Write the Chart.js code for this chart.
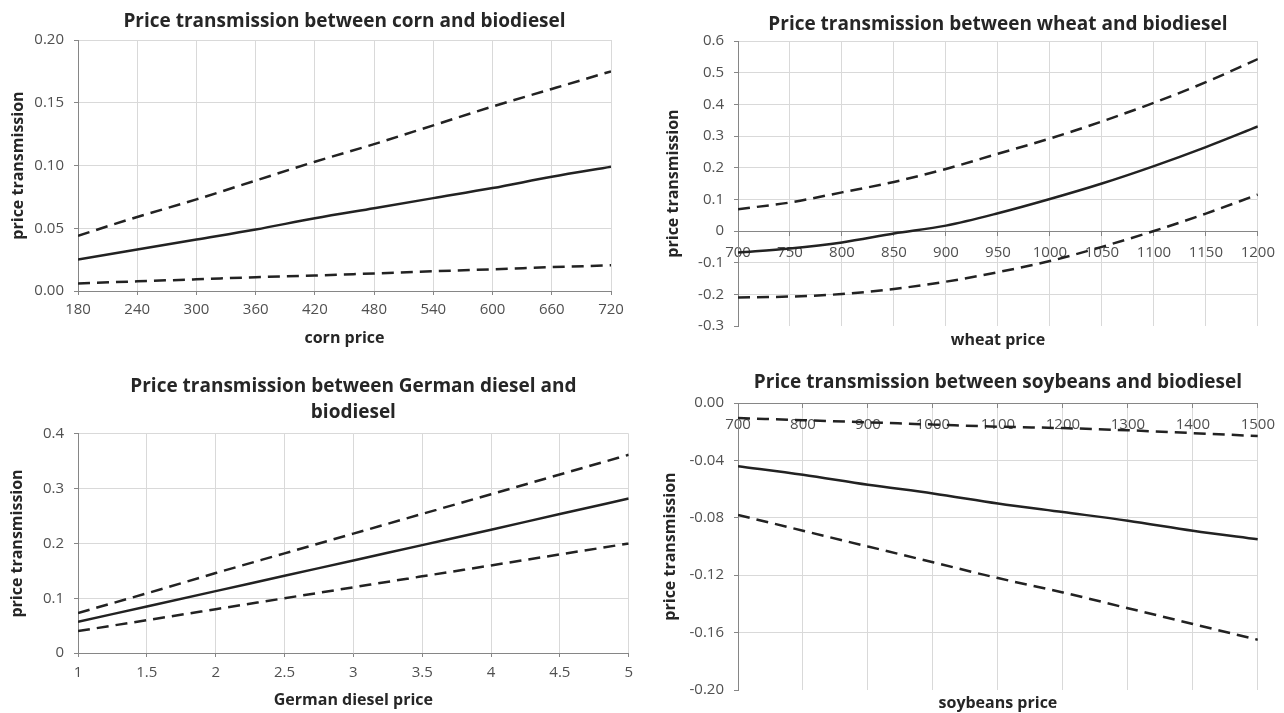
<!DOCTYPE html>
<html><head><meta charset="utf-8">
<script src="https://cdn.jsdelivr.net/npm/chart.js@4/dist/chart.umd.min.js"></script>
<style>
html,body{margin:0;padding:0;background:#fff;}
#wrap{position:relative;width:1284px;height:713px;overflow:hidden;background:#fff;}
canvas{position:absolute;}
</style></head><body>
<div id="wrap">
<canvas id="c1" width="640" height="350" style="left:0;top:0"></canvas>
<canvas id="c2" width="644" height="350" style="left:640px;top:0"></canvas>
<canvas id="c3" width="640" height="363" style="left:0;top:350px"></canvas>
<canvas id="c4" width="644" height="363" style="left:640px;top:350px"></canvas>
</div>
<script>
// ---- data ----
const cornPrice    = [180, 240, 300, 360, 420, 480, 540, 600, 660, 720];
const cornEstimate = [0.025, 0.033, 0.041, 0.049, 0.058, 0.066, 0.074, 0.082, 0.091, 0.099];
const cornUpper    = [0.044, 0.059, 0.073, 0.088, 0.103, 0.117, 0.132, 0.147, 0.161, 0.175];
const cornLower    = [0.006, 0.0077, 0.0093, 0.011, 0.0123, 0.0140, 0.0157, 0.0173, 0.019, 0.0205];

const wheatPrice    = [700, 750, 800, 850, 900, 950, 1000, 1050, 1100, 1150, 1200];
const wheatEstimate = [-0.068, -0.055, -0.036, -0.008, 0.017, 0.056, 0.101, 0.150, 0.205, 0.265, 0.330];
const wheatUpper    = [0.069, 0.090, 0.122, 0.155, 0.196, 0.244, 0.292, 0.346, 0.405, 0.470, 0.543];
const wheatLower    = [-0.210, -0.207, -0.199, -0.183, -0.160, -0.130, -0.095, -0.050, 0.000, 0.055, 0.115];

const dieselPrice    = [1, 1.5, 2, 2.5, 3, 3.5, 4, 4.5, 5];
const dieselEstimate = [0.057, 0.085, 0.113, 0.141, 0.169, 0.197, 0.225, 0.254, 0.282];
const dieselUpper    = [0.073, 0.109, 0.146, 0.182, 0.218, 0.254, 0.290, 0.326, 0.362];
const dieselLower    = [0.040, 0.060, 0.080, 0.100, 0.120, 0.140, 0.160, 0.180, 0.200];

const soyPrice    = [700, 800, 900, 1000, 1100, 1200, 1300, 1400, 1500];
const soyEstimate = [-0.044, -0.050, -0.057, -0.063, -0.070, -0.076, -0.082, -0.089, -0.095];
const soyUpper    = [-0.0105, -0.012, -0.0135, -0.015, -0.0165, -0.0175, -0.019, -0.021, -0.023];
const soyLower    = [-0.078, -0.089, -0.100, -0.111, -0.122, -0.132, -0.143, -0.154, -0.165];

const yAxisTitle = 'price transmission';

// ---- styling ----
const FONT = '"Open Sans", Lato, sans-serif';
const LINE = '#222222', GRID = '#d9d9d9', AXIS = '#868686', TICK = '#505050', TEXT = '#262626';

function build(id, p) {
  const ds = (ys, dashed) => ({
    data: p.x.map((x, i) => ({x: x, y: ys[i]})),
    borderColor: LINE, borderWidth: 2.5, borderDash: dashed ? [12, 7] : [],
    pointRadius: 0, fill: false, cubicInterpolationMode: 'monotone'
  });
  const yFmt = v => (Math.abs(v) < 1e-9 && p.zeroPlain) ? '0' : Number(v).toFixed(p.yDec);
  return new Chart(document.getElementById(id), {
    type: 'line',
    data: { datasets: [ds(p.upper, true), ds(p.est, false), ds(p.lower, true)] },
    options: {
      responsive: false, animation: false, devicePixelRatio: 1,
      layout: { padding: { left: 0, top: 0, right: p.padRight, bottom: 0 } },
      plugins: {
        legend: { display: false }, tooltip: { enabled: false },
        title: { display: true, text: p.title, fullSize: false, color: TEXT,
          font: { family: FONT, size: 19, weight: 'bold', lineHeight: p.titleLH || 1.2 },
          padding: { top: p.tTop, bottom: p.tBottom } },
        subtitle: p.xAtZero ? { display: true, position: 'bottom', text: p.xTitle, fullSize: false, color: TEXT,
          font: { family: FONT, size: 16, weight: 'bold', lineHeight: 1.2 },
          padding: { top: p.sTop, bottom: 0 } } : { display: false }
      },
      scales: {
        x: {
          type: 'linear', min: p.xMin, max: p.xMax,
          position: p.xAtZero ? { y: 0 } : 'bottom',
          ticks: { stepSize: p.xStep, color: TICK, font: { family: FONT, size: 15 }, padding: p.xTickPad,
            maxRotation: 0, autoSkip: false, callback: v => String(v) },
          grid: { color: GRID, tickColor: AXIS, tickLength: 4, lineWidth: 1 },
          border: { color: AXIS, width: 1 },
          title: p.xAtZero ? { display: false } : { display: true, text: p.xTitle, color: TEXT,
            font: { family: FONT, size: 16, weight: 'bold', lineHeight: 1.2 }, padding: { top: 0, bottom: p.xTitlePad } },
          afterFit: s => { s.height = p.xHeight; }
        },
        y: {
          type: 'linear', min: p.yMin, max: p.yMax,
          ticks: { stepSize: p.yStep, color: TICK, font: { family: FONT, size: 15 }, padding: 10, callback: yFmt },
          grid: { color: c => (c.tick && Math.abs(c.tick.value - p.yMin) < 1e-9) ? 'rgba(0,0,0,0)' : GRID,
            tickColor: AXIS, tickLength: 4, lineWidth: 1 },
          border: { color: AXIS, width: 1 },
          title: { display: true, text: yAxisTitle, color: TEXT,
            font: { family: FONT, size: 16, weight: 'bold', lineHeight: 1.2 }, padding: { top: p.yTitlePad, bottom: 0 } },
          afterFit: s => { s.width = p.yWidth; }
        }
      }
    }
  });
}

build('c1', { x: cornPrice, est: cornEstimate, upper: cornUpper, lower: cornLower,
  title: 'Price transmission between corn and biodiesel', xTitle: 'corn price',
  xMin: 180, xMax: 720, xStep: 60, yMin: 0, yMax: 0.2, yStep: 0.05, yDec: 2, zeroPlain: false,
  padRight: 29, yWidth: 78, xHeight: 59, tTop: 10.6, tBottom: 6.6, xTickPad: 6, xTitlePad: 2.4, yTitlePad: 8.4 });

build('c2', { x: wheatPrice, est: wheatEstimate, upper: wheatUpper, lower: wheatLower,
  title: 'Price transmission between wheat and biodiesel', xTitle: 'wheat price', xAtZero: true,
  xMin: 700, xMax: 1200, xStep: 50, yMin: -0.3, yMax: 0.6, yStep: 0.1, yDec: 1, zeroPlain: true,
  padRight: 15, yWidth: 98, xHeight: 0, tTop: 13.6, tBottom: 4.6, sTop: 4.8, xTickPad: 9, yTitlePad: 23.4 });

build('c3', { x: dieselPrice, est: dieselEstimate, upper: dieselUpper, lower: dieselLower,
  title: ['Price transmission between German diesel and', 'biodiesel'], titleLH: 1.368, xTitle: 'German diesel price',
  xMin: 1, xMax: 5, xStep: 0.5, yMin: 0, yMax: 0.4, yStep: 0.1, yDec: 1, zeroPlain: true,
  padRight: 10, yWidth: 78, xHeight: 60, tTop: 24, tBottom: 8, xTickPad: 7, xTitlePad: 3.4, yTitlePad: 7.4 });

build('c4', { x: soyPrice, est: soyEstimate, upper: soyUpper, lower: soyLower,
  title: 'Price transmission between soybeans and biodiesel', xTitle: 'soybeans price', xAtZero: true,
  xMin: 700, xMax: 1500, xStep: 100, yMin: -0.2, yMax: 0, yStep: 0.04, yDec: 2, zeroPlain: false,
  padRight: 23, yWidth: 98, xHeight: 0, tTop: 21.6, tBottom: 8.6, sTop: 3.8, xTickPad: 9, yTitlePad: 20.4 });
</script>
</body></html>
